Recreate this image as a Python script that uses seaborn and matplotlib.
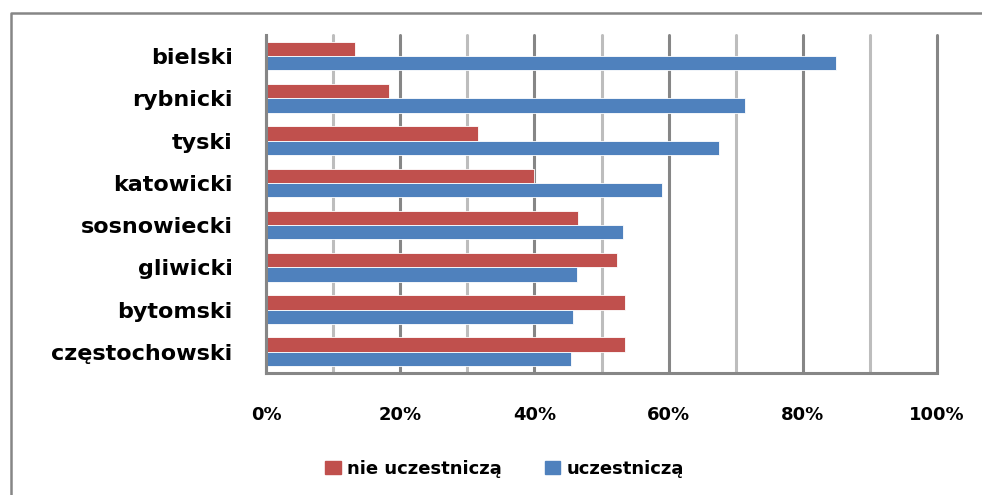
import pandas as pd
import matplotlib
matplotlib.use('Agg')
import matplotlib.pyplot as plt
import matplotlib.patches as mpatches
from matplotlib.lines import Line2D
from matplotlib.ticker import MultipleLocator, PercentFormatter
import seaborn as sns

# data (share in %)
powiaty = ['bielski', 'rybnicki', 'tyski', 'katowicki', 'sosnowiecki',
           'gliwicki', 'bytomski', 'częstochowski']
nie_uczestnicza = [13.2, 18.4, 31.6, 40.0, 46.5, 52.3, 53.5, 53.5]
uczestnicza = [85.0, 71.4, 67.5, 59.0, 53.2, 46.4, 45.8, 45.5]
serie = ['nie uczestniczą', 'uczestniczą']
kolory = ['#C0504D', '#4F81BD']

df = pd.DataFrame({
    'powiat': powiaty * 2,
    'seria': [serie[0]] * len(powiaty) + [serie[1]] * len(powiaty),
    'udzial': nie_uczestnicza + uczestnicza,
})

sns.set_style('white')
plt.rcParams['font.family'] = ['DejaVu Sans']
plt.rcParams['text.color'] = 'black'
plt.rcParams['xtick.color'] = 'black'
plt.rcParams['ytick.color'] = 'black'

fig = plt.figure(figsize=(9.82, 4.95), dpi=100)
ax = fig.add_axes([0.2709, 0.2465, 0.6833, 0.6828])

sns.barplot(data=df, x='udzial', y='powiat', hue='seria', order=powiaty,
            hue_order=serie, palette=kolory, orient='h', width=0.68,
            saturation=1, ax=ax, legend=False, linewidth=0.6,
            edgecolor='white')

ax.set_xlim(0, 100)
ax.set_ylim(len(powiaty) - 0.5, -0.5)
ax.xaxis.set_major_locator(MultipleLocator(20))
ax.xaxis.set_minor_locator(MultipleLocator(10))
ax.xaxis.set_major_formatter(PercentFormatter(decimals=0))
ax.grid(axis='x', which='major', color='#868686', lw=2.2)
ax.grid(axis='x', which='minor', color='#BDBDBD', lw=2.2)
ax.set_axisbelow(True)
# keep the 100% line fully visible at the axes edge
for gl in ax.get_xgridlines() + ax.xaxis.get_minorticklines():
    gl.set_clip_on(False)
for t in ax.xaxis.get_major_ticks() + ax.xaxis.get_minor_ticks():
    t.gridline.set_clip_on(False)

# category boundary ticks on the y axis
ax.set_yticks([i - 0.5 for i in range(len(powiaty) + 1)], minor=True)
ax.tick_params(axis='y', which='major', length=0, pad=24, labelsize=16)
ax.tick_params(axis='y', which='minor', length=7, width=2, color='#868686',
               direction='out')
ax.tick_params(axis='x', which='major', length=7, width=2, color='#868686',
               direction='out', labelsize=13, pad=17)
ax.tick_params(axis='x', which='minor', length=0)
for lab in ax.get_yticklabels() + ax.get_xticklabels():
    lab.set_fontweight('bold')

for s in ['top', 'right']:
    ax.spines[s].set_visible(False)
for s in ['left', 'bottom']:
    ax.spines[s].set_color('#868686')
    ax.spines[s].set_linewidth(2.2)
ax.set_xlabel('')
ax.set_ylabel('')

uchwyty = [mpatches.Patch(color=k, label=s) for k, s in zip(kolory, serie)]
fig.legend(handles=uchwyty, loc='center', bbox_to_anchor=(0.514, 0.053),
           ncol=2, frameon=False, handlelength=0.85, handleheight=0.8,
           columnspacing=2.4, handletextpad=0.35,
           prop={'weight': 'bold', 'size': 13})

# chart frame: only left and top edges are visible in the crop
fig.lines.append(Line2D([10.5 / 982, 10.5 / 982, 1.0],
                        [0.0, 1 - 12.5 / 495, 1 - 12.5 / 495],
                        transform=fig.transFigure, color='#868686', lw=1.8))

fig.savefig('out.png', dpi=100)
